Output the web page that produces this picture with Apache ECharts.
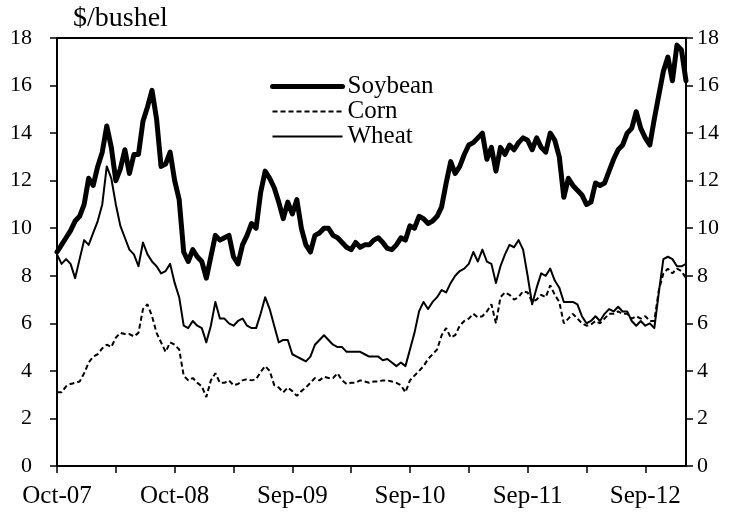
<!DOCTYPE html>
<html>
<head>
<meta charset="utf-8">
<script src="https://cdn.jsdelivr.net/npm/echarts@6/dist/echarts.min.js"></script>
<style>
html,body{margin:0;padding:0;background:#fff;}
#chart{width:738px;height:515px;}
</style>
</head>
<body>
<div id="chart"></div>
<script>
// Tick labels (one every 26 biweekly points = one year)
const xTickLabels = ['Oct-07', 'Oct-08', 'Sep-09', 'Sep-10', 'Sep-11', 'Sep-12'];
const yUnit = '$/bushel';

// Biweekly prices, $/bushel
const soybean = [
  9.0, 9.3, 9.6, 9.9, 10.3, 10.5, 11.0, 12.1, 11.8, 12.6, 13.2, 14.3, 13.4, 12.0, 12.5, 13.3, 12.3, 13.1, 13.1, 14.5, 15.1, 15.8, 14.6, 12.6,
  12.7, 13.2, 12.0, 11.2, 9.0, 8.6, 9.1, 8.8, 8.6, 7.9, 8.8, 9.7, 9.5, 9.6, 9.7, 8.8, 8.5, 9.3, 9.7, 10.2, 10.0, 11.5, 12.4,
  12.1, 11.7, 11.1, 10.4, 11.1, 10.6, 11.2, 10.0, 9.3, 9.0, 9.7, 9.8, 10.0, 10.0, 9.7, 9.6, 9.4, 9.2, 9.1, 9.4, 9.2, 9.3, 9.3,
  9.5, 9.6, 9.4, 9.15, 9.1, 9.3, 9.6, 9.5, 10.1, 10.0, 10.5, 10.4, 10.2, 10.3, 10.5, 10.9, 11.9, 12.8, 12.3, 12.6, 13.1, 13.5, 13.6,
  13.8, 14.0, 12.9, 13.4, 12.4, 13.4, 13.1, 13.5, 13.3, 13.6, 13.8, 13.7, 13.3, 13.8, 13.4, 13.2, 14.0, 13.7, 13.0, 11.3, 12.1, 11.8, 11.6, 11.4,
  11.0, 11.1, 11.9, 11.8, 11.9, 12.4, 12.9, 13.3, 13.5, 14.0, 14.2, 14.9, 14.2, 13.8, 13.5, 14.6, 15.6, 16.6, 17.2, 16.2, 17.7, 17.5, 16.2
];
const corn = [
  3.1, 3.1, 3.35, 3.45, 3.5, 3.55, 3.9, 4.35, 4.6, 4.7, 4.95, 5.1, 5.0, 5.4, 5.6, 5.55, 5.55, 5.45, 5.6, 6.6, 6.8, 6.3, 5.6, 5.2,
  4.8, 5.2, 5.1, 4.9, 3.8, 3.6, 3.7, 3.5, 3.35, 2.9, 3.6, 3.9, 3.5, 3.5, 3.6, 3.4, 3.45, 3.6, 3.65, 3.6, 3.65, 3.95, 4.2,
  4.0, 3.4, 3.3, 3.1, 3.3, 3.15, 2.95, 3.15, 3.3, 3.5, 3.7, 3.6, 3.75, 3.7, 3.7, 3.9, 3.6, 3.45, 3.5, 3.5, 3.6, 3.55, 3.5,
  3.55, 3.55, 3.6, 3.6, 3.55, 3.5, 3.4, 3.1, 3.6, 3.8, 4.0, 4.2, 4.5, 4.7, 4.9, 5.5, 5.8, 5.4, 5.5, 5.9, 6.1, 6.2, 6.4,
  6.25, 6.3, 6.5, 6.8, 6.0, 7.1, 7.3, 7.2, 7.0, 7.1, 7.35, 7.3, 6.9, 7.0, 7.2, 7.1, 7.6, 7.2, 6.9, 6.0, 6.2, 6.4, 6.2, 6.0,
  5.9, 5.95, 6.1, 6.0, 6.2, 6.4, 6.4, 6.5, 6.4, 6.4, 6.2, 6.3, 6.2, 6.3, 6.1, 6.1, 7.4, 8.1, 8.3, 8.1, 8.3, 8.2, 7.9
];
const wheat = [
  8.9, 8.5, 8.7, 8.5, 7.9, 8.7, 9.5, 9.3, 9.8, 10.3, 11.0, 12.6, 12.1, 11.0, 10.1, 9.6, 9.1, 8.9, 8.4, 9.4, 8.9, 8.6, 8.4, 8.1,
  8.2, 8.5, 7.7, 7.1, 5.9, 5.8, 6.1, 5.9, 5.8, 5.2, 5.9, 6.9, 6.2, 6.2, 6.0, 5.9, 6.1, 6.2, 5.9, 5.8, 5.8, 6.4, 7.1,
  6.6, 5.9, 5.2, 5.3, 5.3, 4.7, 4.6, 4.5, 4.4, 4.6, 5.1, 5.3, 5.5, 5.3, 5.1, 5.0, 5.0, 4.8, 4.8, 4.8, 4.8, 4.7, 4.6,
  4.6, 4.6, 4.45, 4.5, 4.35, 4.2, 4.35, 4.2, 4.9, 5.6, 6.5, 6.9, 6.6, 6.9, 7.1, 7.4, 7.3, 7.7, 8.0, 8.2, 8.3, 8.5, 9.0,
  8.6, 9.1, 8.6, 8.5, 7.7, 8.4, 8.9, 9.3, 9.2, 9.5, 9.1, 8.0, 6.8, 7.5, 8.1, 8.0, 8.3, 7.8, 7.5, 6.9, 6.9, 6.9, 6.8, 6.3,
  6.0, 6.1, 6.3, 6.1, 6.4, 6.6, 6.5, 6.7, 6.5, 6.5, 6.1, 5.9, 6.1, 5.9, 6.0, 5.8, 7.3, 8.7, 8.8, 8.7, 8.4, 8.4, 8.5
];
const categories = soybean.map((_, i) => String(i));

const FONT = 'Liberation Serif';
const chart = echarts.init(document.getElementById('chart'), null, {renderer: 'canvas'});

const yAxisCommon = {
  type: 'value', min: 0, max: 18, interval: 2,
  splitLine: {show: false},
  axisLine: {show: true, lineStyle: {color: '#000', width: 2}},
  axisTick: {show: true, inside: false, length: 7, lineStyle: {color: '#000', width: 1.5}},
};

chart.setOption({
  animation: false,
  backgroundColor: '#fff',
  title: {
    text: yUnit, left: 68, top: 0,
    textStyle: {fontFamily: FONT, fontSize: 28, fontWeight: 'normal', color: '#000'}
  },
  legend: {
    orient: 'vertical', left: 265, top: 69,
    itemWidth: 70, itemHeight: 14, itemGap: 0,
    itemStyle: {opacity: 0},
    textStyle: {fontFamily: FONT, fontSize: 25, color: '#000', lineHeight: 23},
    data: [
      {name: 'Soybean', lineStyle: {width: 5}},
      {name: 'Corn', lineStyle: {width: 2}},
      {name: 'Wheat', lineStyle: {width: 2}}
    ]
  },
  grid: {left: 57, right: 52, top: 38, bottom: 49, show: true, borderColor: '#000', borderWidth: 2, backgroundColor: 'transparent'},
  xAxis: {
    type: 'category', data: categories, boundaryGap: false,
    axisLine: {show: true, lineStyle: {color: '#000', width: 2}},
    axisTick: {show: true, inside: false, length: 7, lineStyle: {color: '#000', width: 1.5},
      interval: (i) => i % 13 === 0},
    axisLabel: {
      interval: (i) => i % 26 === 0,
      formatter: (v, i) => xTickLabels[Math.round(Number(v) / 26)] || '',
      fontFamily: FONT, fontSize: 25, color: '#000', margin: 18
    },
    splitLine: {show: false}
  },
  yAxis: [
    Object.assign({}, yAxisCommon, {position: 'left',
      axisLabel: {fontFamily: FONT, fontSize: 22, color: '#000', margin: 25}}),
    Object.assign({}, yAxisCommon, {position: 'right',
      axisLabel: {fontFamily: FONT, fontSize: 22, color: '#000', margin: 11}})
  ],
  series: [
    {name: 'Soybean', type: 'line', data: soybean, showSymbol: false, symbol: 'none',
      lineStyle: {color: '#000', width: 5, cap: 'round', join: 'round'}, itemStyle: {color: '#000'}, z: 3},
    {name: 'Corn', type: 'line', data: corn, showSymbol: false, symbol: 'none',
      lineStyle: {color: '#000', width: 2, type: [5, 3]}, itemStyle: {color: '#000'}, z: 2},
    {name: 'Wheat', type: 'line', data: wheat, showSymbol: false, symbol: 'none',
      lineStyle: {color: '#000', width: 2, join: 'round'}, itemStyle: {color: '#000'}, z: 2}
  ]
});
</script>
</body>
</html>
